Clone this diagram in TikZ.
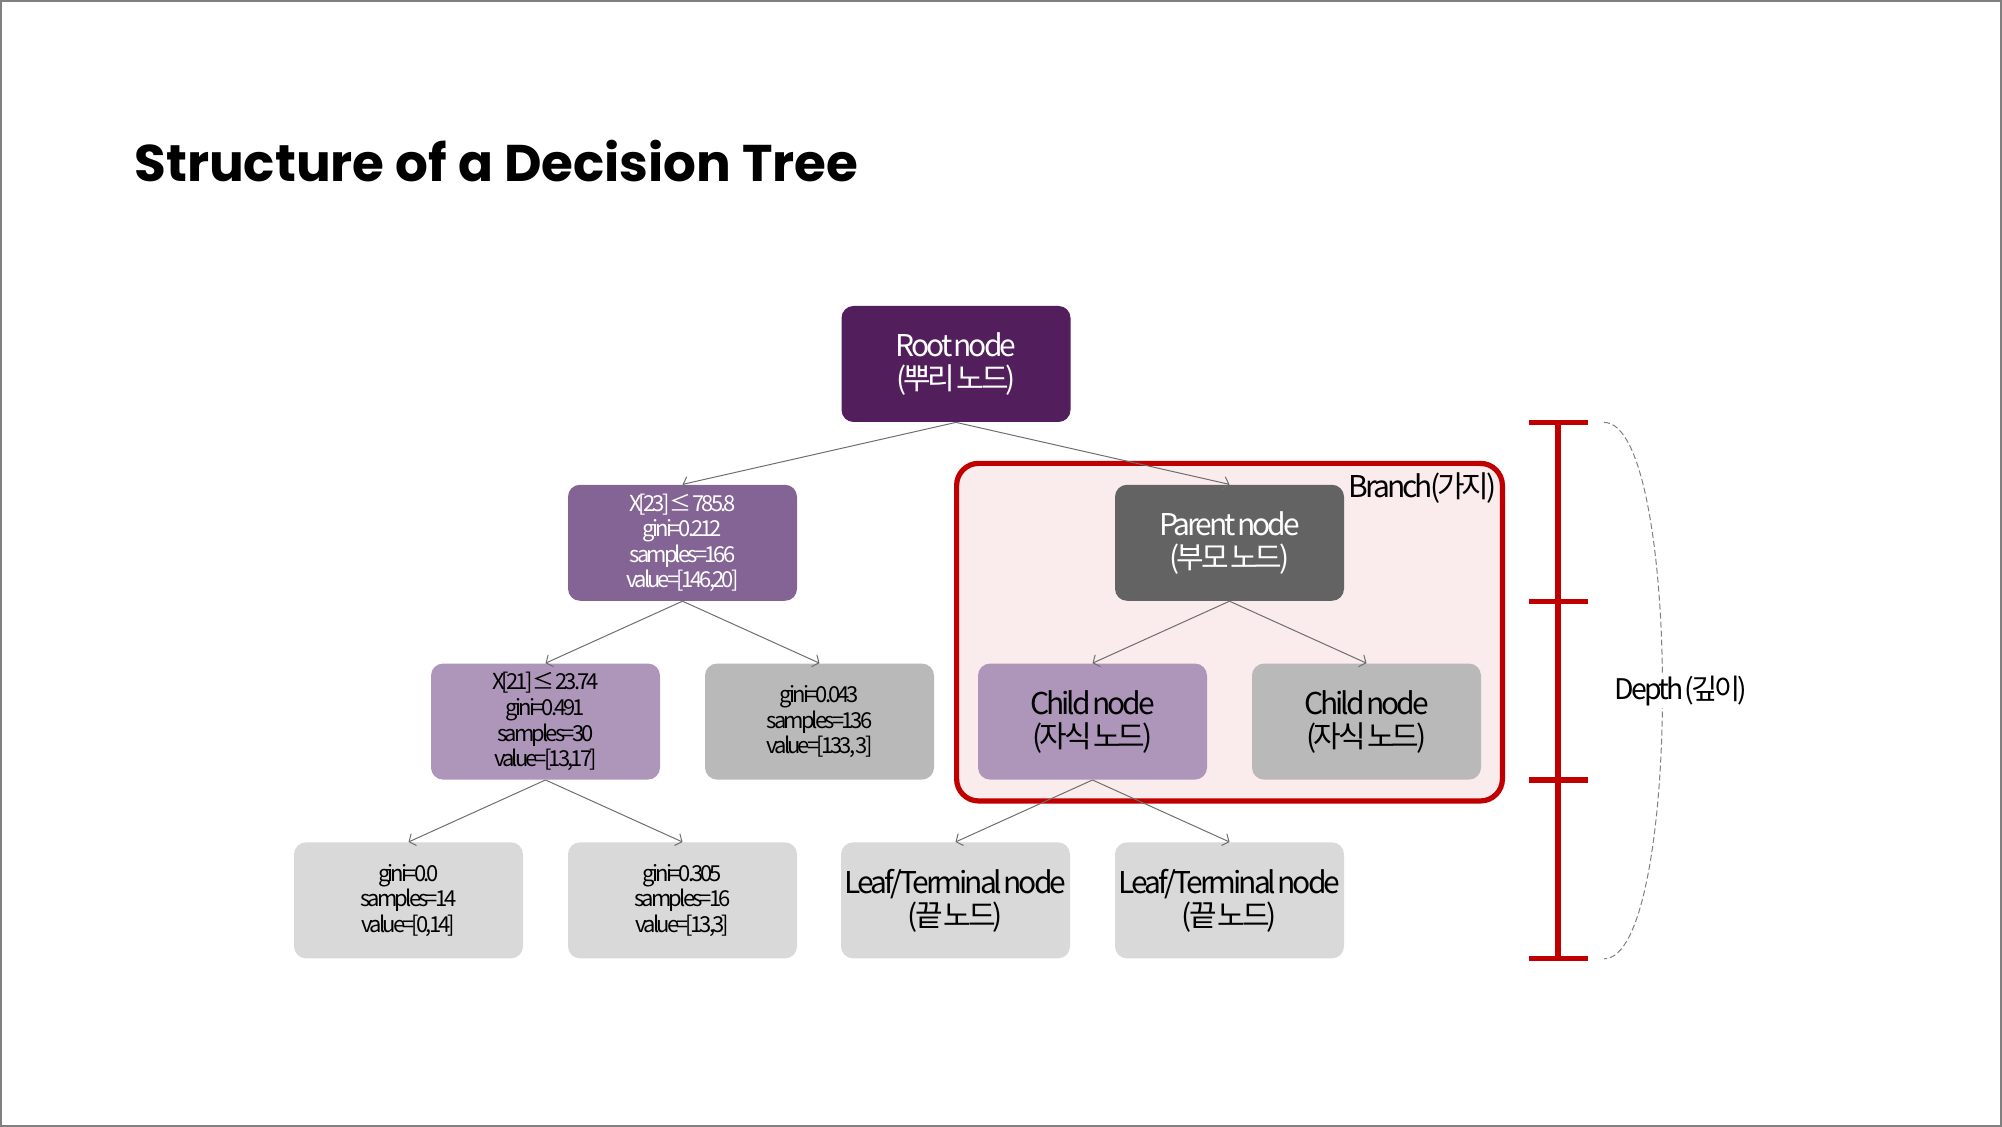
\documentclass[tikz,border=0pt]{standalone}
\usepackage{fontspec}
\usetikzlibrary{arrows.meta,positioning,calc,fit,backgrounds}
\newfontfamily\krfont[LetterSpace=-10,WordSpace=0.3]{Noto Sans CJK KR}
\newfontfamily\krsmall[LetterSpace=-13,WordSpace=0.2]{Noto Sans CJK KR}
\newfontfamily\titlefont{Poppins}
\definecolor{rootpurple} {RGB}{ 82, 30, 92}
\definecolor{splitpurple}{RGB}{132,100,148}
\definecolor{lightpurple}{RGB}{174,150,186}
\definecolor{midgray}    {RGB}{185,185,185}
\definecolor{leafgray}   {RGB}{217,217,217}
\definecolor{parentgray} {RGB}{ 99, 99, 99}
\definecolor{branchfill} {RGB}{250,235,236}
\definecolor{branchred}  {RGB}{192,  0,  0}
\definecolor{edgegray}   {RGB}{110,110,110}
\definecolor{framegray}  {RGB}{128,128,128}

\begin{document}
\begin{tikzpicture}[
  font=\krfont,
  >={Straight Barb[length=2.6pt,width=6.5pt]},
  node distance=31pt and 22.5pt,
  every node/.style={align=center},
  treebox/.style={
      rectangle, rounded corners=6pt,
      minimum width=114.5pt, minimum height=58pt,
      inner sep=0pt
  },
  bigtext/.style={font=\krfont\fontsize{15}{16.5}\selectfont},
  smalltext/.style={font=\krsmall\fontsize{11}{12.8}\selectfont},
  arr/.style={->, draw=edgegray, line width=0.5pt},
  depthbar/.style={draw=branchred, line width=2.6pt},
  depthcurve/.style={draw=gray, line width=0.5pt, dash pattern=on 3pt off 1.5pt}
]

% page frame and size
\useasboundingbox (0,0) rectangle (1001pt,563.5pt);
\draw[framegray, line width=1pt] (0.5pt,0.5pt) rectangle (1000.5pt,563pt);

\node[anchor=base west, inner sep=0pt, font=\titlefont\bfseries\fontsize{25.8}{30}\selectfont]
      (title) at (67pt,472.5pt) {Structure of a Decision Tree};

% =========================================================
% LEVEL 0 / 1
% =========================================================
\node[treebox, bigtext, fill=rootpurple, text=white] (root) at (478pt,381.5pt)
      {Root node\\(뿌리 노드)};
\node[treebox, smalltext, fill=splitpurple, text=white,
      below=of root, xshift=-136.75pt] (split23)
      {X[23] ≤ 785.8\\gini=0.212\\samples=166\\value=[146,20]};
\node[treebox, bigtext, fill=parentgray, text=white,
      below=of root, xshift=136.75pt] (parent)
      {Parent node\\(부모 노드)};

\draw[arr] (root.south) -- (split23.north);
\draw[arr] (root.south) -- (parent.north);

% =========================================================
% LEVEL 2
% =========================================================
\node[treebox, smalltext, fill=lightpurple, below=of split23, xshift=-68.5pt] (split21)
      {X[21] ≤ 23.74\\gini=0.491\\samples=30\\value=[13,17]};
\node[treebox, smalltext, fill=midgray, below=of split23, xshift=68.5pt] (pure136)
      {gini=0.043\\samples=136\\value=[133, 3]};
\node[treebox, bigtext, fill=lightpurple, below=of parent, xshift=-68.5pt] (childa)
      {Child node\\(자식 노드)};
\node[treebox, bigtext, fill=midgray, below=of parent, xshift=68.5pt] (childb)
      {Child node\\(자식 노드)};

\draw[arr] (split23.south) -- (split21.north);
\draw[arr] (split23.south) -- (pure136.north);
\draw[arr] (parent.south)  -- (childa.north);
\draw[arr] (parent.south)  -- (childb.north);

% =========================================================
% LEVEL 3 (leaves)
% =========================================================
\node[treebox, smalltext, fill=leafgray, below=of split21, xshift=-68.5pt] (leafa)
      {gini=0.0\\samples=14\\value=[0,14]};
\node[treebox, smalltext, fill=leafgray, below=of split21, xshift=68.5pt] (leafb)
      {gini=0.305\\samples=16\\value=[13,3]};
\node[treebox, bigtext, fill=leafgray, below=of childa, xshift=-68.5pt] (leafc)
      {Leaf/Terminal node\\(끝 노드)};
\node[treebox, bigtext, fill=leafgray, below=of childa, xshift=68.5pt] (leafd)
      {Leaf/Terminal node\\(끝 노드)};

\draw[arr] (split21.south) -- (leafa.north);
\draw[arr] (split21.south) -- (leafb.north);
\draw[arr] (childa.south)  -- (leafc.north);
\draw[arr] (childa.south)  -- (leafd.north);

% =========================================================
% Branch box, behind the subtree
% =========================================================
\begin{scope}[on background layer]
  \node[draw=branchred, line width=2.6pt, rounded corners=11pt,
        fill=branchfill, inner sep=10.5pt,
        fit=(parent)(childa)(childb)] (branch) {};
\end{scope}
\node[anchor=north east, inner sep=0pt, bigtext]
      at ([xshift=-4pt,yshift=-6pt]branch.north east) (branchlbl) {Branch(가지)};

% =========================================================
% Depth scale on the right
% =========================================================
\coordinate (barx) at (779pt,0);
\draw[depthbar] (barx |- root.south) -- (barx |- leafa.south);
\foreach \lvl in {root,split23,split21,leafa}
  \draw[depthbar] ([xshift=-14.75pt]barx |- \lvl.south)
               -- ([xshift=14.75pt]barx |- \lvl.south);

\coordinate (dtop) at ([xshift=23pt]barx |- root.south);
\coordinate (dbot) at ([xshift=23pt]barx |- leafa.south);
\draw[depthcurve] (dtop) .. controls ([xshift=39pt]dtop) and ([xshift=39pt]dbot) .. (dbot);
\node[anchor=west, fill=white, inner sep=1pt,
      font=\krfont\fontsize{14.2}{16}\selectfont]
      (depthlbl) at ($(dtop)!0.5!(dbot)+(4pt,0)$) {Depth (깊이)};

\end{tikzpicture}
\end{document}
